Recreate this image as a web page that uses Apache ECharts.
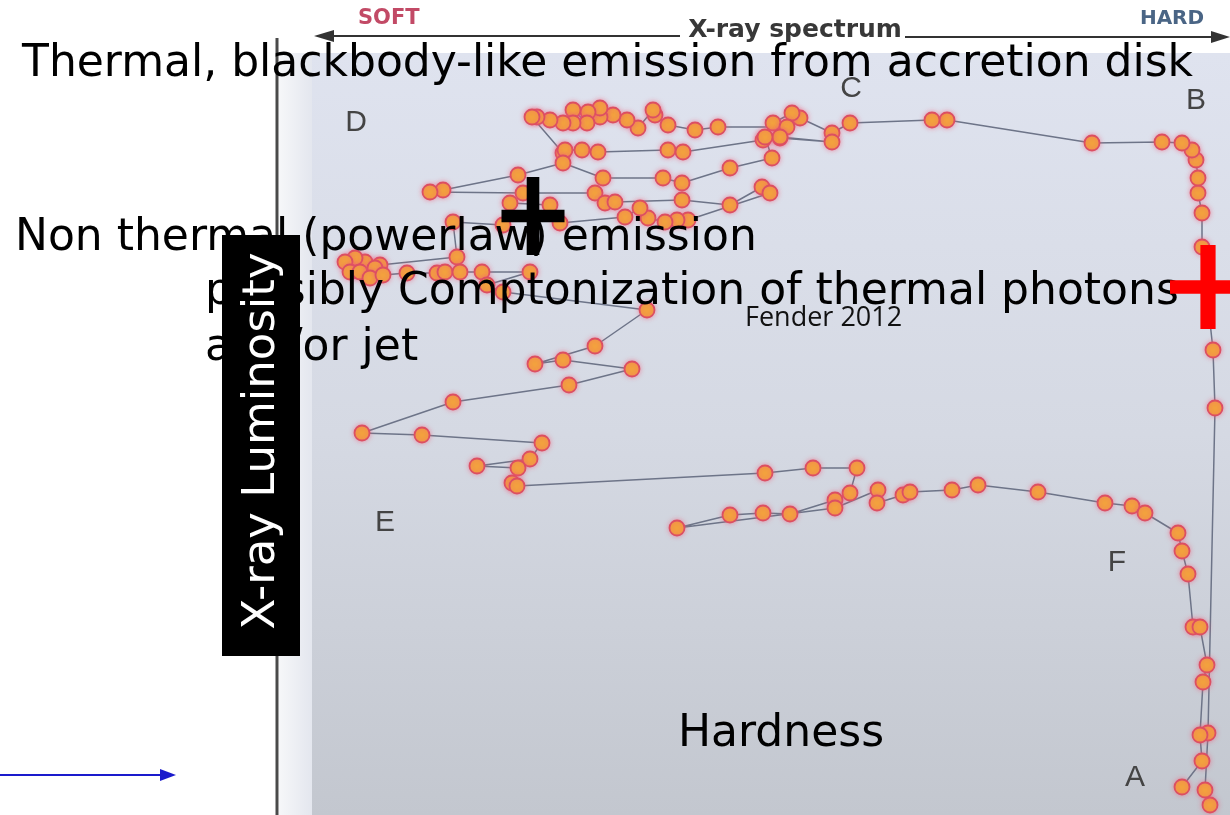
<!DOCTYPE html>
<html><head><meta charset="utf-8">
<script src="https://cdn.jsdelivr.net/npm/echarts@6/dist/echarts.min.js"></script>
<style>html,body{margin:0;padding:0;background:#fff}#c{width:1230px;height:815px}</style>
</head><body><div id="c"></div>
<script>
// Hardness (figure units, soft -> hard)
const hardness = [1210,1205,1208,1215,1213,1202,1202,1198,1198,1196,1192,1182,1162,1092,947,932,850,832,800,792,773,787,718,695,668,655,653,638,627,613,600,600,588,573,587,573,563,550,537,532,563,565,582,598,668,683,763,780,832,780,765,772,730,682,663,603,563,518,443,430,523,595,605,615,682,730,762,770,688,677,665,648,640,625,560,550,510,503,453,457,380,365,355,345,350,360,375,370,383,407,437,445,460,482,530,487,503,647,595,535,563,632,569,453,362,422,542,530,477,518,512,517,765,813,857,850,835,790,763,730,677,835,878,877,903,910,952,978,1038,1105,1132,1145,1178,1182,1188,1193,1200,1207,1203,1200,1202,1182];
// X-ray luminosity (figure units, measured downward from the top of the figure)
const luminosity = [805,790,733,408,350,247,213,193,178,160,150,143,142,143,120,120,123,133,118,113,123,127,127,130,125,115,110,128,120,115,117,108,112,110,123,123,123,120,117,117,153,150,150,152,150,152,140,138,142,137,137,158,168,183,178,178,163,175,190,192,193,193,203,202,200,205,187,193,220,220,222,218,208,217,223,205,203,225,222,257,265,262,258,262,272,272,268,278,275,273,273,272,272,272,272,285,292,310,346,364,360,369,385,402,433,435,443,459,466,468,483,486,473,468,468,493,500,514,513,515,528,508,490,503,495,492,490,485,492,503,506,513,533,551,574,627,627,665,682,735,761,787];
// Annotation crosses
const crossX = [533, 1208];
const crossY = [216, 287];
const crossColors = ['#000000', '#ff0000'];
const crossSizes = [[63, 78], [76, 84]];

const track = hardness.map((h, i) => [h, luminosity[i]]);
const crosses = crossX.map((x, i) => ({value: [x, crossY[i]], symbolSize: crossSizes[i], itemStyle: {color: crossColors[i], opacity: 1}}));

const FONT = '"DejaVu Sans"';
const chart = echarts.init(document.getElementById('c'), null, {renderer: 'canvas'});
chart.setOption({
  animation: false,
  backgroundColor: '#ffffff',
  grid: {left: 0, right: 0, top: 0, bottom: 0},
  xAxis: {type: 'value', min: 0, max: 1230, show: false},
  yAxis: {type: 'value', min: 0, max: 815, inverse: true, show: false},
  graphic: [
    {type: 'rect', z: -10, shape: {x: 279, y: 53, width: 34, height: 762},
     style: {fill: new echarts.graphic.LinearGradient(0, 0, 1, 0, [{offset: 0, color: '#f6f7f9'}, {offset: 1, color: '#e3e6ee'}])}},
    {type: 'rect', z: -10, shape: {x: 312, y: 53, width: 918, height: 762},
     style: {fill: new echarts.graphic.LinearGradient(0, 0, 0, 1, [{offset: 0, color: '#dfe3ef'}, {offset: 0.5, color: '#d5d9e3'}, {offset: 1, color: '#c3c7cf'}])}},
    {type: 'line', z: -5, shape: {x1: 277, y1: 38, x2: 277, y2: 815}, style: {stroke: '#4a4a4a', lineWidth: 3}},
    // top spectrum arrows
    {type: 'line', z: -5, shape: {x1: 330, y1: 36, x2: 680, y2: 36}, style: {stroke: '#333', lineWidth: 2}},
    {type: 'polygon', z: -5, shape: {points: [[314, 36], [334, 30], [334, 42]]}, style: {fill: '#333'}},
    {type: 'line', z: -5, shape: {x1: 905, y1: 37, x2: 1214, y2: 37}, style: {stroke: '#333', lineWidth: 2}},
    {type: 'polygon', z: -5, shape: {points: [[1230, 37], [1211, 31], [1211, 43]]}, style: {fill: '#333'}},
    {type: 'text', z: -5, x: 358, y: 19, style: {text: 'SOFT', font: 'bold 21px "DejaVu Sans"', fill: '#c24a66', align: 'left', verticalAlign: 'middle'}},
    {type: 'text', z: -5, x: 795, y: 30, style: {text: 'X-ray spectrum', font: 'bold 25px "DejaVu Sans"', fill: '#383838', align: 'center', verticalAlign: 'middle'}},
    {type: 'text', z: -5, x: 1172, y: 19, style: {text: 'HARD', font: 'bold 20px "DejaVu Sans"', fill: '#4a6585', align: 'center', verticalAlign: 'middle'}},
    // state letters
    {type: 'text', z: -5, x: 356, y: 123, style: {text: 'D', font: '30px "Liberation Sans"', fill: '#444', align: 'center', verticalAlign: 'middle'}},
    {type: 'text', z: -5, x: 851, y: 89, style: {text: 'C', font: '30px "Liberation Sans"', fill: '#444', align: 'center', verticalAlign: 'middle'}},
    {type: 'text', z: -5, x: 1196, y: 101, style: {text: 'B', font: '30px "Liberation Sans"', fill: '#444', align: 'center', verticalAlign: 'middle'}},
    {type: 'text', z: -5, x: 385, y: 523, style: {text: 'E', font: '30px "Liberation Sans"', fill: '#444', align: 'center', verticalAlign: 'middle'}},
    {type: 'text', z: -5, x: 1117, y: 563, style: {text: 'F', font: '30px "Liberation Sans"', fill: '#444', align: 'center', verticalAlign: 'middle'}},
    {type: 'text', z: -5, x: 1135, y: 778, style: {text: 'A', font: '30px "Liberation Sans"', fill: '#444', align: 'center', verticalAlign: 'middle'}},
    // overlay slide texts
    {type: 'text', z: 50, x: 22, y: 65, style: {text: 'Thermal, blackbody-like emission from accretion disk', font: '44px ' + FONT, fill: '#000', align: 'left', verticalAlign: 'middle'}},
    {type: 'text', z: 50, x: 15, y: 239, style: {text: 'Non thermal (powerlaw) emission', font: '44px ' + FONT, fill: '#000', align: 'left', verticalAlign: 'middle'}},
    {type: 'text', z: 50, x: 205, y: 293, style: {text: 'possibly Comptonization of thermal photons', font: '44px ' + FONT, fill: '#000', align: 'left', verticalAlign: 'middle'}},
    {type: 'text', z: 50, x: 205, y: 349, style: {text: 'and/or jet', font: '44px ' + FONT, fill: '#000', align: 'left', verticalAlign: 'middle'}},
    {type: 'text', z: 50, x: 745, y: 318, style: {text: 'Fender 2012', font: '27px "Open Sans"', fill: '#111', align: 'left', verticalAlign: 'middle'}},
    {type: 'text', z: 50, x: 781, y: 735, style: {text: 'Hardness', font: '44px ' + FONT, fill: '#000', align: 'center', verticalAlign: 'middle'}},
    {type: 'rect', z: 60, shape: {x: 222, y: 235, width: 78, height: 421}, style: {fill: '#000'}},
    {type: 'text', z: 61, x: 262, y: 441, rotation: Math.PI / 2, style: {text: 'X-ray Luminosity', font: '45px ' + FONT, fill: '#fff', align: 'center', verticalAlign: 'middle'}},
    // blue arrow
    {type: 'line', z: 50, shape: {x1: 0, y1: 775, x2: 162, y2: 775}, style: {stroke: '#1a1acc', lineWidth: 2}},
    {type: 'polygon', z: 50, shape: {points: [[176, 775], [160, 769], [160, 781]]}, style: {fill: '#1a1acc'}}
  ],
  series: [
    {
      type: 'line', data: track, z: 3,
      symbol: 'circle', symbolSize: 15,
      lineStyle: {color: '#6d7488', width: 1.5},
      itemStyle: {color: '#f3a23e', borderColor: '#dc4f62', borderWidth: 1.8, shadowBlur: 5, shadowColor: 'rgba(240,90,120,0.55)'}
    },
    {
      type: 'scatter', data: crosses, z: 80,
      symbol: 'path://M40,0 H60 V42 H100 V58 H60 V100 H40 V58 H0 V42 H40 Z',
      symbolKeepAspect: false,
      itemStyle: {opacity: 1},
      emphasis: {disabled: true}
    }
  ]
});
</script></body></html>
